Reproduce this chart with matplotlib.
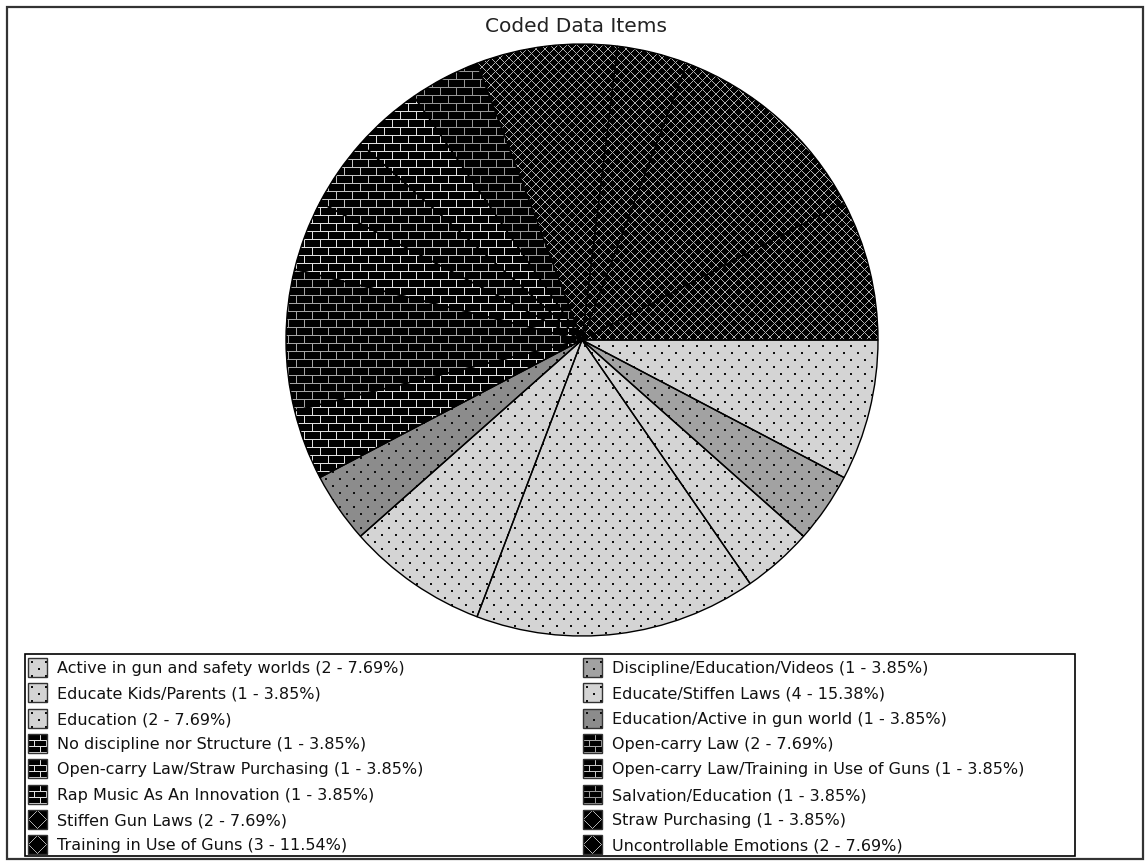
import numpy as np
import matplotlib.pyplot as plt
from matplotlib.colors import to_rgb
from matplotlib.patches import Rectangle

categories = [
    "Active in gun and safety worlds",
    "Discipline/Education/Videos",
    "Educate Kids/Parents",
    "Educate/Stiffen Laws",
    "Education",
    "Education/Active in gun world",
    "No discipline nor Structure",
    "Open-carry Law",
    "Open-carry Law/Straw Purchasing",
    "Open-carry Law/Training in Use of Guns",
    "Rap Music As An Innovation",
    "Salvation/Education",
    "Stiffen Gun Laws",
    "Straw Purchasing",
    "Training in Use of Guns",
    "Uncontrollable Emotions",
]
counts = [2, 1, 1, 4, 2, 1, 1, 2, 1, 1, 1, 1, 2, 1, 3, 2]

# (pattern, face colour, pattern colour) for each slice
styles = [
    ("dots", "#d4d4d4", "#101010"),
    ("dots", "#a2a2a2", "#101010"),
    ("dots", "#d4d4d4", "#101010"),
    ("dots", "#d4d4d4", "#101010"),
    ("dots", "#d4d4d4", "#101010"),
    ("dots", "#8c8c8c", "#101010"),
    ("brick", "black", "#e0e0e0"),
    ("brick", "black", "#a4a4a4"),
    ("brick", "black", "#e0e0e0"),
    ("brick", "black", "#c4c4c4"),
    ("brick", "black", "#e0e0e0"),
    ("brick", "black", "#969696"),
    ("cross", "black", "#b0b0b0"),
    ("cross", "black", "#b0b0b0"),
    ("cross", "black", "#b0b0b0"),
    ("cross", "black", "#b0b0b0"),
]

W, H = 1146, 862
FONT = "DejaVu Sans"


def pattern(style, x0, y0, w, h, legend=False):
    """Pixel texture (h x w RGB) anchored at pixel (x0, y0)."""
    kind, face, pcol = style
    yy, xx = np.mgrid[y0:y0 + h, x0:x0 + w]
    img = np.empty((h, w, 3))
    img[:] = to_rgb(face)
    if kind == "dots":
        shift = 7 * ((yy // 7) % 2)
        mask = np.isin(yy % 7, (3, 4)) & np.isin((xx + shift) % 14, (3, 4))
    elif kind == "brick":
        bh, bw = (6, 12) if legend else (8, 16)
        shift = (bw // 2) * ((yy // bh) % 2)
        mask = (yy % bh == 0) | ((xx + shift) % bw == 0)
    else:
        p, off = (18, 9) if legend else (9, 0)
        mask = ((xx + yy) % p == off) | ((xx - yy) % p == off)
    img[mask] = to_rgb(pcol)
    return img


fig = plt.figure(figsize=(W / 100, H / 100), dpi=100)
ax = fig.add_axes([0, 0, 1, 1])

cx, cy, r = 582, 341, 296
bx0, by0, bn = cx - r - 2, cy - r - 2, 2 * r + 4

# y runs downward, so counterclock=True draws clockwise on screen
wedges, _ = ax.pie(counts, center=(cx, cy), radius=r, startangle=0,
                   counterclock=True, frame=True,
                   colors=[s[1] for s in styles],
                   wedgeprops=dict(linewidth=0, zorder=1))
for wedge, style in zip(wedges, styles):
    im = ax.imshow(pattern(style, bx0, by0, bn, bn), origin="upper",
                   extent=(bx0, bx0 + bn, by0 + bn, by0),
                   interpolation="nearest", zorder=2)
    im.set_clip_path(wedge)

ax.pie(counts, center=(cx, cy), radius=r, startangle=0, counterclock=True,
       frame=True, wedgeprops=dict(fill=False, edgecolor="black",
                                   linewidth=1.0, zorder=3))

ax.text(576, 26, "Coded Data Items", ha="center", va="center",
        fontsize=14.5, family=FONT, color="#222222")

# legend, two columns filled row by row
ax.add_patch(Rectangle((25, 655), 1050, 202, fill=False, edgecolor="black",
                       linewidth=1.2, zorder=3))
total = sum(counts)
col_x = [28, 583]
sw = 19
for i, (name, n, style) in enumerate(zip(categories, counts, styles)):
    row, col = divmod(i, 2)
    sx = col_x[col]
    sy = int(round(659 + row * 25.3))
    ax.imshow(pattern(style, 0, 0, sw, sw, legend=True), origin="upper",
              extent=(sx, sx + sw, sy + sw, sy), interpolation="nearest",
              zorder=2)
    ax.add_patch(Rectangle((sx, sy), sw, sw, fill=False, edgecolor="#333333",
                           linewidth=1.0, zorder=3))
    ax.text(sx + sw + 10, sy + sw / 2 + 0.5,
            f"{name} ({n} - {100 * n / total:.2f}%)",
            ha="left", va="center", fontsize=11.5, family=FONT,
            color="#111111")

ax.add_patch(Rectangle((7, 8), 1136, 852, fill=False, edgecolor="#333333",
                       linewidth=1.6, zorder=4))

ax.set_xlim(0, W)
ax.set_ylim(H, 0)
ax.set_axis_off()

fig.savefig("out.png", dpi=100)
